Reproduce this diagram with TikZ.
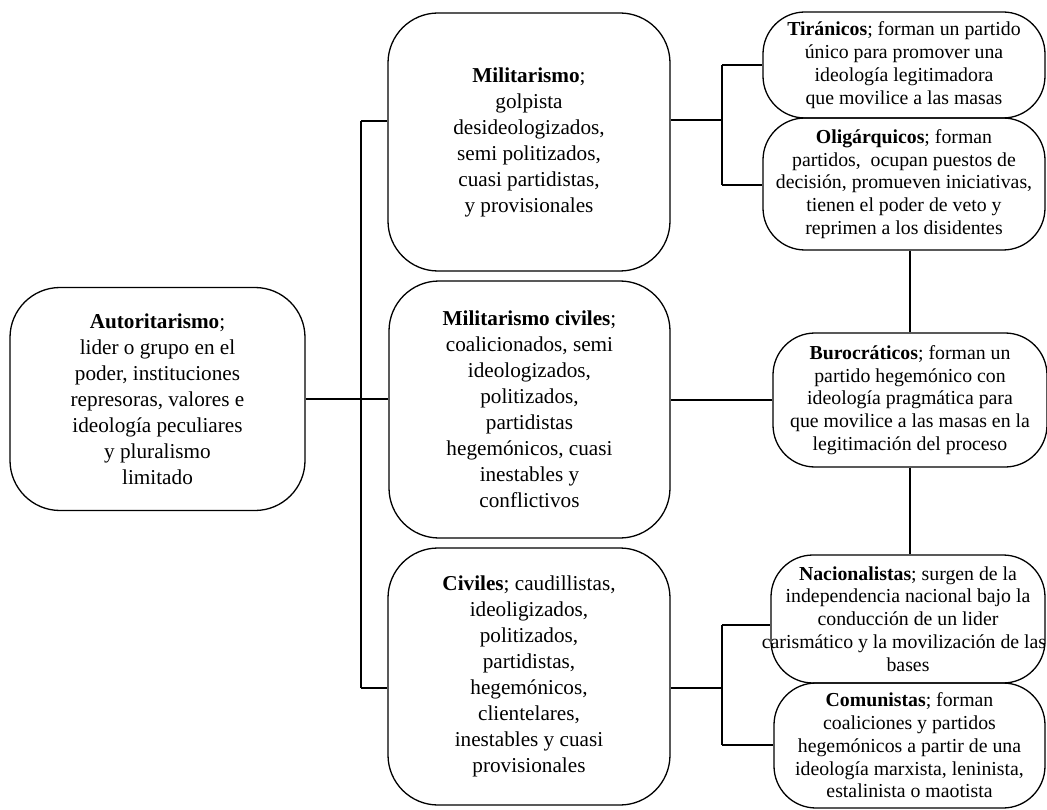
\documentclass[tikz,border=0pt]{standalone}
\usepackage{fontspec}
\setmainfont{Liberation Serif}
\begin{document}
\begin{tikzpicture}[x=1pt,y=-1pt,
  bigbox/.style={draw=black, line width=1.3pt, rounded corners=50pt, align=center, inner xsep=0pt, inner ysep=0pt,
    font=\fontsize{21.2pt}{26pt}\selectfont},
  smallbox/.style={draw=black, line width=1.3pt, rounded corners=42pt, align=center, inner xsep=0pt, inner ysep=0pt,
    font=\fontsize{19.8pt}{22.8pt}\selectfont},
  conn/.style={draw=black, line width=2pt}
]
\useasboundingbox (0,0) rectangle (1047,810);

% left column
\node[bigbox, minimum width=295pt, minimum height=223pt] (auth) at (157.5,399)
  {\textbf{Autoritarismo};\\lider o grupo en el\\poder, instituciones\\represoras, valores e\\ideología peculiares\\y pluralismo\\limitado};

% middle column
\node[bigbox, minimum width=282pt, minimum height=258pt] (mil) at (529,142)
  {\textbf{Militarismo};\\golpista\\desideologizados,\\semi politizados,\\cuasi partidistas,\\y provisionales};
\node[bigbox, minimum width=281pt, minimum height=257pt] (milciv) at (529.5,409.5)
  {\textbf{Militarismo civiles};\\coalicionados, semi\\ideologizados,\\politizados,\\partidistas\\hegemónicos, cuasi\\inestables y\\conflictivos};
\node[bigbox, minimum width=282pt, minimum height=257pt] (civ) at (529,676.5)
  {\textbf{Civiles}; caudillistas,\\ideoligizados,\\politizados,\\partidistas,\\hegemónicos,\\clientelares,\\inestables y cuasi\\provisionales};

% right column
\node[smallbox, minimum width=282pt, minimum height=106pt] (tir) at (904,65)
  {\textbf{Tiránicos}; forman un partido\\único para promover una\\ideología legitimadora\\que movilice a las masas};
\node[smallbox, minimum width=282pt, minimum height=132pt] (oli) at (904,184)
  {\textbf{Oligárquicos}; forman\\partidos,\ \ ocupan puestos de\\decisión, promueven iniciativas,\\tienen el poder de veto y\\reprimen a los disidentes};
\node[smallbox, minimum width=274pt, minimum height=134pt] (buro) at (910,400)
  {\textbf{Burocráticos}; forman un\\partido hegemónico con\\ideología pragmática para\\que movilice a las masas en la\\legitimación del proceso};
\node[smallbox, minimum width=274pt, minimum height=128pt] (nac) at (908,619)
  {\textbf{Nacionalistas}; surgen de la\\independencia nacional bajo la\\conducción de un lider\\\makebox[0pt]{carismático y la movilización de las\kern8pt}\\bases};
\node[smallbox, minimum width=271pt, minimum height=125pt] (com) at (909.5,745.5)
  {\textbf{Comunistas}; forman\\coaliciones y partidos\\hegemónicos a partir de una\\ideología marxista, leninista,\\estalinista o maotista};

% trunk coordinates
\coordinate (t1) at (361,121);
\coordinate (t3) at (361,688);
\coordinate (ma) at (722,120);
\coordinate (mt) at (722,65);
\coordinate (mo) at (722,185);
\coordinate (ca) at (722,688);
\coordinate (cn) at (722,625);
\coordinate (cc) at (722,745);

% left trunk
\draw[conn] (t1) -- (t3);
\draw[conn] (auth.east) -- (auth.east -| milciv.west);
\draw[conn] (t1) -- (t1 -| mil.west);
\draw[conn] (t3) -- (t3 -| civ.west);

% Militarismo branch
\draw[conn] (ma -| mil.east) -- (ma);
\draw[conn] (mt) -- (mo);
\draw[conn] (mt) -- (mt -| tir.west);
\draw[conn] (mo) -- (mo -| oli.west);

% Militarismo civiles -> Burocraticos
\draw[conn] (buro.west) -- (buro.west -| milciv.east);

% vertical chain on right
\draw[conn] (oli.south -| buro.north) -- (buro.north);
\draw[conn] (buro.south) -- (buro.south |- nac.north);

% Civiles branch
\draw[conn] (ca -| civ.east) -- (ca);
\draw[conn] (cn) -- (cc);
\draw[conn] (cn) -- (cn -| nac.west);
\draw[conn] (cc) -- (cc -| com.west);
\end{tikzpicture}
\end{document}
